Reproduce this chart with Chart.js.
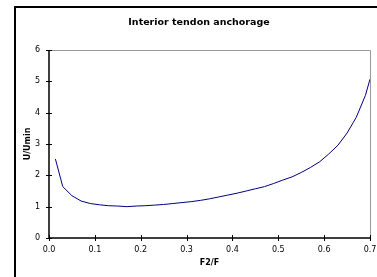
<!DOCTYPE html>
<html lang="en">
<head>
    <meta charset="UTF-8">
    <title>Interior tendon anchorage</title>
    <style>
        html, body {
            margin: 0;
            padding: 0;
            background: #fff;
            overflow: hidden;
        }
        #wrap {
            width: 377px;
            height: 277px;
            overflow: hidden;
        }
    </style>
</head>
<body>
    <!-- the original chart box is wider than the window; its title is centred on the whole box -->
    <div id="wrap"><canvas id="chart" width="398" height="277"></canvas></div>
    <script src="https://cdn.jsdelivr.net/npm/chart.js"></script>
    <script>
        // values
        const ratioF2F = [0.014, 0.03, 0.05, 0.07, 0.09, 0.11, 0.13, 0.15, 0.17, 0.19,
            0.21, 0.23, 0.25, 0.27, 0.29, 0.31, 0.33, 0.35, 0.37, 0.39,
            0.41, 0.43, 0.45, 0.47, 0.49, 0.51, 0.53, 0.55, 0.57, 0.59,
            0.61, 0.63, 0.65, 0.67, 0.69, 0.70];
        const uOverUmin = [2.52, 1.64, 1.35, 1.18, 1.10, 1.06, 1.03, 1.02, 1.00, 1.02,
            1.03, 1.05, 1.07, 1.10, 1.13, 1.16, 1.20, 1.25, 1.31, 1.37,
            1.43, 1.50, 1.57, 1.64, 1.74, 1.85, 1.95, 2.09, 2.25, 2.43,
            2.68, 2.96, 3.35, 3.85, 4.55, 5.07];
        const xTicks = [0.0, 0.1, 0.2, 0.3, 0.4, 0.5, 0.6, 0.7];
        const yTicks = [0, 1, 2, 3, 4, 5, 6];

        const font = 'DejaVu Sans';

        // outer frame, grey plot border and cross tick marks (Excel style)
        const frame = {
            id: 'frame',
            beforeDraw(chart) {
                const ctx = chart.ctx;
                ctx.save();
                ctx.strokeStyle = '#000';
                ctx.lineWidth = 2;
                ctx.strokeRect(15, 7, 440, 320);
                ctx.restore();
            },
            afterDraw(chart) {
                const ctx = chart.ctx;
                const a = chart.chartArea;
                const x = chart.scales.x, y = chart.scales.y;
                ctx.save();
                ctx.strokeStyle = '#999';
                ctx.lineWidth = 1;
                ctx.beginPath();
                ctx.moveTo(a.left, a.top + 0.5);
                ctx.lineTo(a.right + 0.5, a.top + 0.5);
                ctx.lineTo(a.right + 0.5, a.bottom);
                ctx.stroke();
                ctx.strokeStyle = '#000';
                ctx.lineWidth = 1.5;
                ctx.beginPath();
                ctx.moveTo(a.left, a.top);
                ctx.lineTo(a.left, a.bottom);
                ctx.lineTo(a.right + 1, a.bottom);
                ctx.stroke();
                ctx.lineWidth = 1;
                ctx.beginPath();
                yTicks.forEach(v => {
                    const py = Math.round(y.getPixelForValue(v)) + 0.5;
                    ctx.moveTo(a.left - 3, py);
                    ctx.lineTo(a.left + 3, py);
                });
                xTicks.forEach(v => {
                    const px = Math.round(x.getPixelForValue(v)) + 0.5;
                    ctx.moveTo(px, a.bottom - 3);
                    ctx.lineTo(px, a.bottom + 3);
                });
                ctx.stroke();
                ctx.restore();
            }
        };

        new Chart(document.getElementById('chart'), {
            type: 'scatter',
            data: {
                datasets: [{
                    data: ratioF2F.map((v, i) => ({ x: v, y: uOverUmin[i] })),
                    showLine: true,
                    borderColor: '#000080',
                    borderWidth: 1,
                    pointRadius: 0,
                    tension: 0
                }]
            },
            options: {
                responsive: false,
                animation: false,
                devicePixelRatio: 1,
                layout: { padding: 0 },
                plugins: {
                    legend: { display: false },
                    tooltip: { enabled: false },
                    title: {
                        display: true,
                        text: 'Interior tendon anchorage',
                        color: '#000',
                        font: { family: font, size: 9.5, weight: 'bold' },
                        padding: { top: 16.5, bottom: 22.1 }
                    }
                },
                scales: {
                    x: {
                        type: 'linear',
                        min: 0,
                        max: 0.7,
                        afterBuildTicks: s => { s.ticks = xTicks.map(v => ({ value: v })); },
                        afterFit: s => { s.height = 39; s.paddingLeft = 0; s.paddingRight = 28; },
                        grid: { display: false, drawTicks: false },
                        border: { display: false },
                        ticks: {
                            color: '#000',
                            font: { family: font, size: 8 },
                            padding: 7,
                            maxRotation: 0,
                            callback: v => v.toFixed(1)
                        },
                        title: {
                            display: true,
                            text: 'F2/F',
                            color: '#000',
                            font: { family: font, size: 8, weight: 'bold' },
                            padding: { top: 0, bottom: 9 }
                        }
                    },
                    y: {
                        min: 0,
                        max: 6,
                        afterBuildTicks: s => { s.ticks = yTicks.map(v => ({ value: v })); },
                        afterFit: s => { s.width = 49; s.paddingTop = 0; s.paddingBottom = 0; },
                        grid: { display: false, drawTicks: false },
                        border: { display: false },
                        ticks: {
                            color: '#000',
                            font: { family: font, size: 8 },
                            padding: 9
                        },
                        title: {
                            display: true,
                            text: 'U/Umin',
                            color: '#000',
                            font: { family: font, size: 8, weight: 'bold' },
                            padding: { top: 23, bottom: 0 }
                        }
                    }
                }
            },
            plugins: [frame]
        });
    </script>
</body>
</html>
